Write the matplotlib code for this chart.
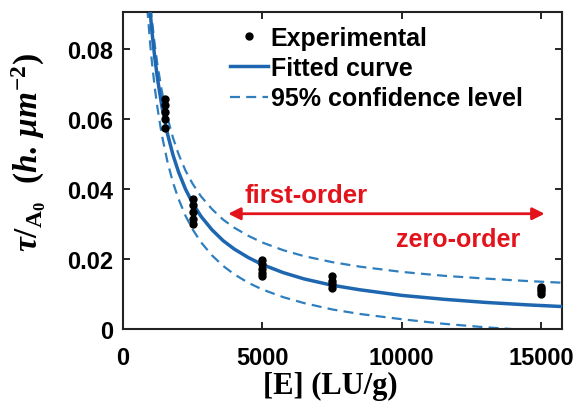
"""tau/A0 vs enzyme loading [E] - fitted curve with 95% confidence band."""
import matplotlib
matplotlib.use("Agg")
import matplotlib.pyplot as plt

plt.rcParams["font.family"] = ["Liberation Sans", "DejaVu Sans"]
plt.rcParams["font.weight"] = "bold"
plt.rcParams["mathtext.fontset"] = "custom"
plt.rcParams["mathtext.rm"] = "Liberation Serif:bold"
plt.rcParams["mathtext.it"] = "Liberation Serif:italic:bold"
plt.rcParams["mathtext.bf"] = "Liberation Serif:bold"

# ─── data ───────────────────────────────────────────────────────────
EXP_X = [1500] * 5 + [2500] * 5 + [5000] * 5 + [7500] * 4 + [15000] * 4
EXP_Y = [0.0575, 0.0600, 0.0620, 0.0640, 0.0655,
         0.0300, 0.0315, 0.0335, 0.0355, 0.0370,
         0.0150, 0.0160, 0.0170, 0.0185, 0.0198,
         0.0118, 0.0128, 0.0138, 0.0150,
         0.0100, 0.0108, 0.0115, 0.0120]

# fitted curve, traced
FIT_X = [960, 1050, 1150, 1250, 1400, 1600, 1800, 2000, 2250, 2500, 2800,
         3200, 3600, 4000, 4500, 5000, 5750, 6500, 7500, 8500, 10000,
         11500, 13000, 14500, 15800]
FIT_Y = [0.0925, 0.0846, 0.0773, 0.0712, 0.0637, 0.0558, 0.0497, 0.0448,
         0.0399, 0.0360, 0.0322, 0.0283, 0.0252, 0.0228, 0.0204, 0.0184,
         0.0161, 0.0143, 0.0125, 0.0112, 0.0096, 0.0085, 0.0076, 0.0069,
         0.0064]

# 95% confidence band, traced
UP_X = [1000, 1050, 1150, 1250, 1400, 1600, 1800, 2000, 2250, 2500, 2800,
        3200, 3600, 4000, 4500, 5000, 5750, 6500, 7500, 8500, 10000,
        11500, 13000, 14500, 15800]
UP_Y = [0.0919, 0.0879, 0.0809, 0.0751, 0.0679, 0.0604, 0.0546, 0.0499,
        0.0452, 0.0415, 0.0379, 0.0342, 0.0312, 0.0289, 0.0266, 0.0247,
        0.0225, 0.0208, 0.0191, 0.0178, 0.0163, 0.0152, 0.0144, 0.0137,
        0.0132]
LO_X = [880, 980, 1050, 1150, 1250, 1400, 1600, 1800, 2000, 2250, 2500,
        2800, 3200, 3600, 4000, 4500, 5000, 5750, 6500, 7500, 8500, 10000,
        11500, 13000, 14500, 15800]
LO_Y = [0.0916, 0.0816, 0.0758, 0.0687, 0.0628, 0.0554, 0.0478, 0.0418,
        0.0371, 0.0323, 0.0285, 0.0248, 0.0210, 0.0180, 0.0156, 0.0132,
        0.0113, 0.0091, 0.0074, 0.0056, 0.0043, 0.0028, 0.0015, 0.0005,
        -0.0003, -0.0008]

ARROW_X = [3780, 15120]
ARROW_Y = 0.0329

X_TICKS = [0, 5000, 10000, 15000]
X_TICK_LABELS = ["0", "5000", "10000", "15000"]
Y_TICKS = [0, 0.02, 0.04, 0.06, 0.08]
Y_TICK_LABELS = ["0", "0.02", "0.04", "0.06", "0.08"]

BLUE = "#1f66b0"
BLUE_DASH = "#2f7fbf"
RED = "#e3131b"

# ─── figure ─────────────────────────────────────────────────────────
fig = plt.figure(figsize=(5.79, 4.02), dpi=100)
ax = fig.add_axes([0.212, 0.179, 0.759, 0.789])

ax.plot(EXP_X, EXP_Y, "o", color="black", markersize=5, label="Experimental", zorder=4)
ax.plot(FIT_X, FIT_Y, "-", color=BLUE, linewidth=2.5, label="Fitted curve", zorder=3)
ax.plot(UP_X, UP_Y, color=BLUE_DASH, linewidth=1.6, dashes=(4.5, 2.8),
        label="95% confidence level", zorder=2)
ax.plot(LO_X, LO_Y, color=BLUE_DASH, linewidth=1.6, dashes=(4.5, 2.8), zorder=2)

ax.annotate("", xy=(ARROW_X[0], ARROW_Y), xytext=(ARROW_X[1], ARROW_Y),
            arrowprops=dict(arrowstyle="<|-|>", color=RED, lw=2, mutation_scale=18,
                            shrinkA=0, shrinkB=0))
ax.text(4380, 0.0383, "first-order", color=RED, fontsize=18.5, fontweight="bold", va="center")
ax.text(9800, 0.0257, "zero-order", color=RED, fontsize=18, fontweight="bold", va="center")

ax.set_xlim(0, 15750)
ax.set_ylim(0, 0.0905)
ax.set_xticks(X_TICKS)
ax.set_xticklabels(X_TICK_LABELS)
ax.set_yticks(Y_TICKS)
ax.set_yticklabels(Y_TICK_LABELS)
ax.tick_params(direction="in", top=True, right=True, length=5, width=1.2,
               labelsize=17)
ax.tick_params(axis="x", pad=12)
ax.tick_params(axis="y", pad=7)
for s in ax.spines.values():
    s.set_linewidth(1.5)
    s.set_color("#222222")

ax.set_xlabel("[E] (LU/g)", fontsize=22, fontweight="bold", family="Liberation Serif")
ax.xaxis.set_label_coords(0.472, -0.1325)
ax.set_ylabel(r"$\tau/_{\mathrm{A_0}}\ \ (h.\,\mu m^{-2})$", fontsize=24)
ax.yaxis.set_label_coords(-0.17, 0.56)

ax.legend(loc="upper left", bbox_to_anchor=(0.2215, 0.987), frameon=False,
          fontsize=18, handlelength=1.5, handletextpad=0.12, labelspacing=0.25,
          borderaxespad=0)

fig.savefig("out.png", dpi=100)
